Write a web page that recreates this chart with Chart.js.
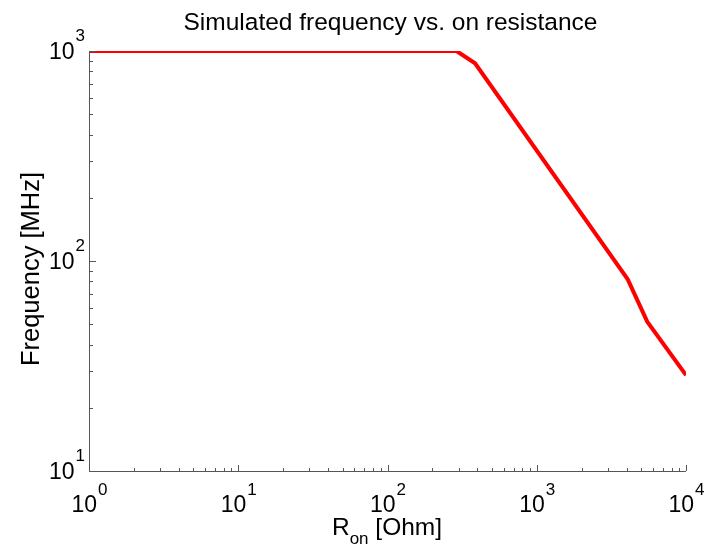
<!DOCTYPE html>
<html>
<head>
<meta charset="utf-8">
<script src="https://cdn.jsdelivr.net/npm/chart.js@4/dist/chart.umd.min.js"></script>
<style>
html,body{margin:0;padding:0;background:#fff;}
#c{display:block;}
</style>
</head>
<body>
<canvas id="c" width="706" height="546"></canvas>
<script>
// Data (R_on in Ohm, frequency in MHz)
const rOn = [1, 10, 100, 290, 386, 4070, 5500, 10000];
const freqMHz = [1000, 1000, 1000, 1000, 874, 81.8, 51.4, 28.6];

// Axis ticks (decades)
const xTickValues = [1, 10, 100, 1000, 10000];
const xTickExps = ['0', '1', '2', '3', '4'];
const yTickValues = [10, 100, 1000];
const yTickExps = ['1', '2', '3'];

const titleText = 'Simulated frequency vs. on resistance';
const yLabelText = 'Frequency [MHz]';
const xLabelMain = 'R';
const xLabelSub = 'on';
const xLabelRest = ' [Ohm]';

const FONT = '"Liberation Sans", Arial, Helvetica, sans-serif';
const AXIS_COLOR = '#555555';

const decoPlugin = {
  id: 'deco',
  afterDraw(chart) {
    const ctx = chart.ctx;
    const a = chart.chartArea;
    const xs = chart.scales.x, ys = chart.scales.y;
    ctx.save();
    // axis lines
    ctx.strokeStyle = AXIS_COLOR;
    ctx.lineWidth = 1;
    ctx.beginPath();
    ctx.moveTo(a.left + 0.5, a.top);
    ctx.lineTo(a.left + 0.5, a.bottom + 0.5);
    ctx.lineTo(a.right, a.bottom + 0.5);
    ctx.stroke();
    // x ticks
    ctx.beginPath();
    const xMin = xs.min, xMax = xs.max;
    for (let d = Math.log10(xMin); d <= Math.log10(xMax); d++) {
      const base = Math.pow(10, d);
      for (let k = 1; k <= 9; k++) {
        const v = k * base;
        if (v > xMax + 1e-9) break;
        const px = Math.round(xs.getPixelForValue(v)) + 0.5;
        const len = k === 1 ? 6 : 3;
        ctx.moveTo(px, a.bottom);
        ctx.lineTo(px, a.bottom - len);
      }
    }
    // y ticks
    const yMin = ys.min, yMax = ys.max;
    for (let d = Math.log10(yMin); d <= Math.log10(yMax); d++) {
      const base = Math.pow(10, d);
      for (let k = 1; k <= 9; k++) {
        const v = k * base;
        if (v > yMax + 1e-9) break;
        const py = Math.round(ys.getPixelForValue(v)) + 0.5;
        const len = k === 1 ? 7 : 4;
        ctx.moveTo(a.left, py);
        ctx.lineTo(a.left + len, py);
      }
    }
    ctx.stroke();

    // tick labels
    ctx.fillStyle = '#000';
    ctx.textBaseline = 'alphabetic';
    ctx.textAlign = 'left';
    const bigFont = '23px ' + FONT;
    const supFont = '17px ' + FONT;
    xTickValues.forEach((v, i) => {
      const px = xs.getPixelForValue(v);
      ctx.font = bigFont;
      const w1 = ctx.measureText('10').width;
      ctx.font = supFont;
      const w2 = ctx.measureText(xTickExps[i]).width;
      const x0 = px - (w1 + w2) / 2;
      ctx.font = bigFont;
      ctx.fillText('10', x0, a.bottom + 41);
      ctx.font = supFont;
      ctx.fillText(xTickExps[i], x0 + w1 + 1, a.bottom + 24);
    });
    yTickValues.forEach((v, i) => {
      const py = ys.getPixelForValue(v);
      ctx.font = bigFont;
      const w1 = ctx.measureText('10').width;
      ctx.font = supFont;
      const w2 = ctx.measureText(yTickExps[i]).width;
      const right = a.left - 4;
      const x0 = right - w2 - 1 - w1;
      ctx.font = bigFont;
      ctx.fillText('10', x0, py + 8);
      ctx.font = supFont;
      ctx.fillText(yTickExps[i], x0 + w1 + 1, py - 10);
    });

    // title
    const labelFont = '24.5px ' + FONT;
    const labelSub = '17px ' + FONT;
    ctx.font = labelFont;
    ctx.textAlign = 'center';
    ctx.fillText(titleText, 390.5, 30);

    // x label with subscript
    ctx.textAlign = 'left';
    ctx.font = labelFont;
    const wR = ctx.measureText(xLabelMain).width;
    const wRest = ctx.measureText(xLabelRest).width;
    ctx.font = labelSub;
    const wSub = ctx.measureText(xLabelSub).width;
    const total = wR + wSub + wRest;
    let lx = 387 - total / 2;
    ctx.font = labelFont;
    ctx.fillText(xLabelMain, lx, a.bottom + 64);
    ctx.font = labelSub;
    ctx.fillText(xLabelSub, lx + wR, a.bottom + 73);
    ctx.font = labelFont;
    ctx.fillText(xLabelRest, lx + wR + wSub, a.bottom + 64);

    // y label rotated
    ctx.save();
    ctx.translate(39, 269);
    ctx.rotate(-Math.PI / 2);
    ctx.textAlign = 'center';
    ctx.font = '25.5px ' + FONT;
    ctx.fillText(yLabelText, 0, 0);
    ctx.restore();

    ctx.restore();
  }
};

new Chart(document.getElementById('c'), {
  type: 'line',
  data: {
    datasets: [{
      data: rOn.map((x, i) => ({ x: x, y: freqMHz[i] })),
      borderColor: '#ff0000',
      borderWidth: 4,
      pointRadius: 0,
      fill: false,
      tension: 0,
      clip: 0
    }]
  },
  options: {
    responsive: false,
    devicePixelRatio: 1,
    animation: false,
    parsing: true,
    layout: { padding: { left: 89, top: 51, right: 20, bottom: 75 } },
    plugins: { legend: { display: false }, tooltip: { enabled: false }, title: { display: false } },
    scales: {
      x: {
        type: 'logarithmic', min: 1, max: 10000,
        ticks: { display: false },
        grid: { display: false, drawTicks: false },
        border: { display: false },
        afterFit(s) { s.height = 0; }
      },
      y: {
        type: 'logarithmic', min: 10, max: 1000,
        ticks: { display: false },
        grid: { display: false, drawTicks: false },
        border: { display: false },
        afterFit(s) { s.width = 0; }
      }
    }
  },
  plugins: [decoPlugin]
});
</script>
</body>
</html>
